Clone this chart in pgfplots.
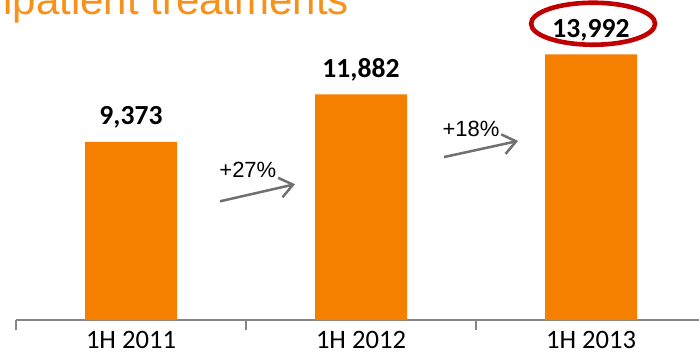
\documentclass[border=0pt]{standalone}
\usepackage{fontspec}
\setmainfont{Carlito}
\newfontfamily\arialf{Liberation Sans}
\usepackage{pgfplots}
\pgfplotsset{compat=1.18}
\usetikzlibrary{arrows.meta}
\definecolor{barorange}{RGB}{245,128,0}
\definecolor{titleorange}{RGB}{247,145,25}
\definecolor{arrowgray}{RGB}{112,112,112}
\definecolor{ellred}{RGB}{192,0,0}
\definecolor{axgray}{RGB}{134,134,134}
\begin{document}
\begin{tikzpicture}[x=1pt,y=1pt]
\useasboundingbox (0,0) rectangle (349.5,177);
\clip (0,0) rectangle (349.5,177);
\node[anchor=base west, inner sep=0, text=titleorange, font=\arialf\fontsize{21}{25}\selectfont] at (1.5,169.5) {ipatient treatments};
\begin{axis}[
  at={(8pt,17pt)}, anchor=south west,
  width=345pt, height=160pt, scale only axis,
  xmin=-0.5, xmax=2.5, ymin=0, ymax=16850,
  axis y line=none, axis x line*=bottom,
  x axis line style={axgray, line width=0.7pt},
  xtick={0,1,2}, xticklabels={1H 2011,1H 2012,1H 2013},
  minor xtick={-0.5,0.5,1.5,2.5},
  major tick length=0pt, minor tick length=5pt,
  xtick align=outside,
  minor tick style={axgray, line width=0.7pt},
  xticklabel style={font=\fontsize{13.3}{15}\selectfont, yshift=-2pt},
  ybar, bar width=46pt,
  nodes near coords={\pgfmathprintnumber[assume math mode=true,1000 sep={,}]{\pgfplotspointmeta}},
  every node near coord/.append style={anchor=base, yshift=8.5pt, font=\bfseries\fontsize{13.8}{16}\selectfont, text=black},
  clip=false,
]
\addplot[fill=barorange, draw=none] coordinates {(0,9373) (1,11882) (2,13992)};
\draw[arrowgray, line width=1.25pt, -{Straight Barb[length=6.5pt,width=10pt]}] (axis cs:0.387,6250) -- (axis cs:0.713,7150);
\draw[arrowgray, line width=1.25pt, -{Straight Barb[length=6.5pt,width=10pt]}] (axis cs:1.361,8581) -- (axis cs:1.683,9428);
\node[font=\arialf\fontsize{11}{13}\selectfont] at (axis cs:0.508,7890) {+27\%};
\node[font=\arialf\fontsize{11}{13}\selectfont] at (axis cs:1.478,10064) {+18\%};
\draw[ellred, line width=2.3pt] (axis cs:2.009,15600) ellipse [x radius=31pt, y radius=10.5pt];
\end{axis}
\end{tikzpicture}
\end{document}
